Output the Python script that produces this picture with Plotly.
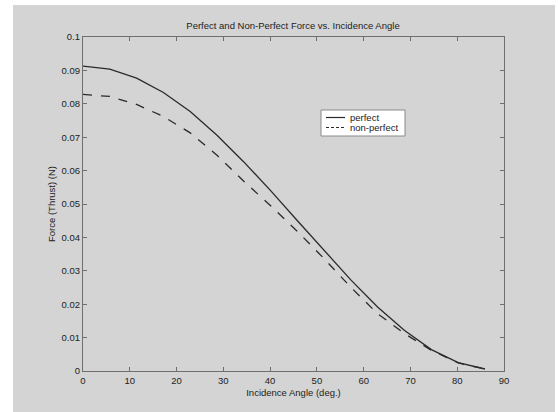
import plotly.graph_objects as go

angle_deg = [0, 5.73, 11.46, 17.19, 22.92, 28.65, 34.38, 40.11, 45.84, 51.57,
             57.30, 63.03, 68.75, 74.48, 80.21, 85.94]
force_perfect = [0.0913, 0.0904, 0.0877, 0.0834, 0.0777, 0.0706, 0.0626, 0.0540,
                 0.0450, 0.0360, 0.0272, 0.0191, 0.0121, 0.0064, 0.0025, 0.0006]
force_nonperfect = [0.0828, 0.0822, 0.0798, 0.0762, 0.0713, 0.0646, 0.0568, 0.0495,
                    0.0418, 0.0336, 0.0250, 0.0171, 0.0112, 0.0062, 0.0024, 0.0006]
series_names = ["perfect", "non-perfect"]

x_ticks = [0, 10, 20, 30, 40, 50, 60, 70, 80, 90]
y_ticks = [0, 0.01, 0.02, 0.03, 0.04, 0.05, 0.06, 0.07, 0.08, 0.09, 0.1]
y_tick_text = ["0", "0.01", "0.02", "0.03", "0.04", "0.05", "0.06", "0.07", "0.08", "0.09", "0.1"]

font_family = "Liberation Sans, Arial, sans-serif"
axis_col = "#6e6e6e"
line_col = "#2a2a2a"

W, H = 558, 412
ML, MR, MT, MB = 83, 54, 37, 41
PW, PH = W - ML - MR, H - MT - MB


def px(xp):
    return (xp - ML) / PW


def py(yp):
    return (H - MB - yp) / PH


fig = go.Figure()
fig.add_trace(go.Scatter(x=angle_deg, y=force_perfect, mode="lines", name=series_names[0],
                         line=dict(color=line_col, width=1.3)))
fig.add_trace(go.Scatter(x=angle_deg, y=force_nonperfect, mode="lines", name=series_names[1],
                         line=dict(color=line_col, width=1.3, dash="dash")))

# grey figure background
fig.add_shape(type="rect", xref="paper", yref="paper",
              x0=px(13), x1=px(555), y0=py(412), y1=py(5),
              fillcolor="#d4d4d4", line=dict(width=0), layer="below")

# compact MATLAB-style legend box
fig.add_shape(type="rect", xref="paper", yref="paper",
              x0=px(321), x1=px(405), y0=py(136), y1=py(110),
              fillcolor="white", line=dict(color="#8a8a8a", width=1))
for i, (name, dash) in enumerate(zip(series_names, ["solid", "3px,2px"])):
    yy = 117.5 + 10 * i
    fig.add_shape(type="line", xref="paper", yref="paper",
                  x0=px(326), x1=px(345), y0=py(yy), y1=py(yy),
                  line=dict(color=line_col, width=1.2, dash=dash))
    fig.add_annotation(text=name, xref="paper", yref="paper", x=px(348), y=py(yy),
                       xanchor="left", yanchor="middle", showarrow=False,
                       font=dict(size=9.5, color="#222"))

fig.update_layout(
    width=W, height=H,
    margin=dict(l=ML, r=MR, t=MT, b=MB),
    paper_bgcolor="white", plot_bgcolor="white",
    font=dict(family=font_family, size=9.5, color="#222"),
    title=dict(text="Perfect and Non-Perfect Force vs. Incidence Angle",
               x=293 / W, xanchor="center", y=1 - 26 / H, yanchor="middle",
               font=dict(size=9.5, color="#222")),
    showlegend=False,
    xaxis=dict(range=[0, 90], tickvals=x_ticks, ticks="inside", ticklen=4,
               tickcolor=axis_col, showline=True, linecolor=axis_col, linewidth=1.2,
               mirror="ticks", showgrid=False, zeroline=False,
               title=dict(text="Incidence Angle (deg.)", standoff=4,
                          font=dict(size=9.5))),
    yaxis=dict(range=[0, 0.1], tickvals=y_ticks, ticktext=y_tick_text, ticks="inside",
               ticklen=4, tickcolor=axis_col, showline=True, linecolor=axis_col,
               linewidth=1.2, mirror="ticks", showgrid=False, zeroline=False,
               title=dict(text="Force (Thrust) (N)", standoff=4,
                          font=dict(size=9.5))),
)

fig.write_html("out.html", config={"displayModeBar": False},
               post_script="document.body.style.margin='0';document.body.style.overflow='hidden';")
